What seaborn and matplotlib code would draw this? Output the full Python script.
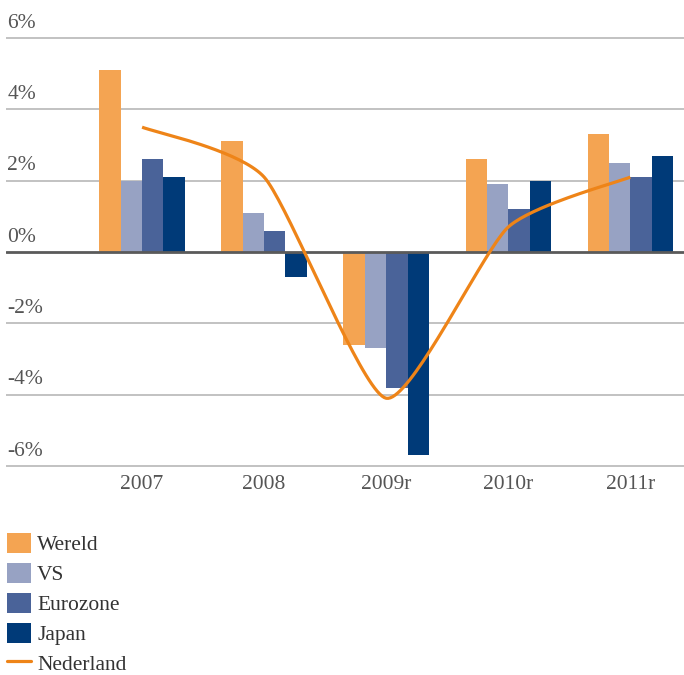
import seaborn as sns
import pandas as pd
import matplotlib.pyplot as plt
import matplotlib
import numpy as np
from matplotlib.lines import Line2D
from matplotlib.patches import Patch

sns.set_style('white')
matplotlib.rcParams['font.family'] = ['Liberation Serif', 'DejaVu Serif']

years = ['2007', '2008', '2009r', '2010r', '2011r']
regions = ['Wereld', 'VS', 'Eurozone', 'Japan']
wereld = [5.1, 3.1, -2.6, 2.6, 3.3]
vs = [2.0, 1.1, -2.7, 1.9, 2.5]
eurozone = [2.6, 0.6, -3.8, 1.2, 2.1]
japan = [2.1, -0.7, -5.7, 2.0, 2.7]
nederland = [3.5, 2.1, -4.1, 0.7, 2.1]
y_ticks = [-6, -4, -2, 0, 2, 4, 6]

colors = ["#F4A452", "#97A2C3", "#4A6399", "#003A78"]
line_color = "#EE8418"
text_color = "#555555"


def smooth(xs, ys, n=40, k=10):
    # bezier smoothing like a spreadsheet "smoothed line"
    pts = np.column_stack([xs, ys]).astype(float)
    ext = np.vstack([pts[0], pts, pts[-1]])
    out = []
    t = np.linspace(0, 1, n)[:, None]
    for i in range(len(pts) - 1):
        p0, p3 = ext[i + 1], ext[i + 2]
        c1 = p0 + (ext[i + 2] - ext[i]) / k
        c2 = p3 - (ext[i + 3] - ext[i + 1]) / k
        seg = (1 - t) ** 3 * p0 + 3 * (1 - t) ** 2 * t * c1 + 3 * (1 - t) * t ** 2 * c2 + t ** 3 * p3
        out.append(seg if i == 0 else seg[1:])
    out = np.vstack(out)
    return out[:, 0], out[:, 1]


def plot_growth():
    df = pd.DataFrame({'jaar': years * 4,
                       'regio': np.repeat(regions, len(years)),
                       'groei': wereld + vs + eurozone + japan})

    fig = plt.figure(figsize=(6.84, 6.75), dpi=100)
    ax = fig.add_axes([6 / 684, 0.3043, 1 - 6 / 684, 0.6447])

    for v in y_ticks:
        if v != 0:
            ax.axhline(v, color='#BDBDBD', lw=1.3, zorder=0)

    sns.barplot(data=df, x='jaar', y='groei', hue='regio', palette=colors,
                width=0.7, saturation=1, linewidth=0, ax=ax, zorder=2,
                legend=False)
    ax.axhline(0, color='#5A5A5A', lw=2, zorder=3)

    sx, sy = smooth(np.arange(len(years)), nederland)
    ax.plot(sx, sy, color=line_color, lw=2.3, zorder=4, solid_capstyle='butt')

    ax.set_xlim(-1.115, 4.44)
    ax.set_ylim(-6.1, 6.1)
    ax.set_yticks([])
    ax.set_xlabel('')
    ax.set_ylabel('')
    ax.tick_params(axis='x', length=0, pad=4, labelsize=15.5, labelcolor=text_color)
    sns.despine(ax=ax, left=True, bottom=True)

    trans = ax.get_yaxis_transform()
    for v in y_ticks:
        ax.annotate(f'{v}%', xy=(0, v), xycoords=trans, xytext=(1, 7.5),
                    textcoords='offset points', ha='left', va='baseline',
                    fontsize=15.5, color=text_color)

    handles = [Patch(facecolor=c, edgecolor='none') for c in colors]
    handles.append(Line2D([0], [0], color=line_color, lw=2.3))
    fig.legend(handles, regions + ['Nederland'], loc='upper left',
               bbox_to_anchor=(7 / 684, 1 - 533 / 675), frameon=False,
               borderpad=0, borderaxespad=0, handlelength=1.1, handleheight=1.05,
               labelspacing=0.35, handletextpad=0.3, fontsize=15.5,
               labelcolor='#333333')

    plt.savefig('out.png', dpi=100)


plot_growth()
